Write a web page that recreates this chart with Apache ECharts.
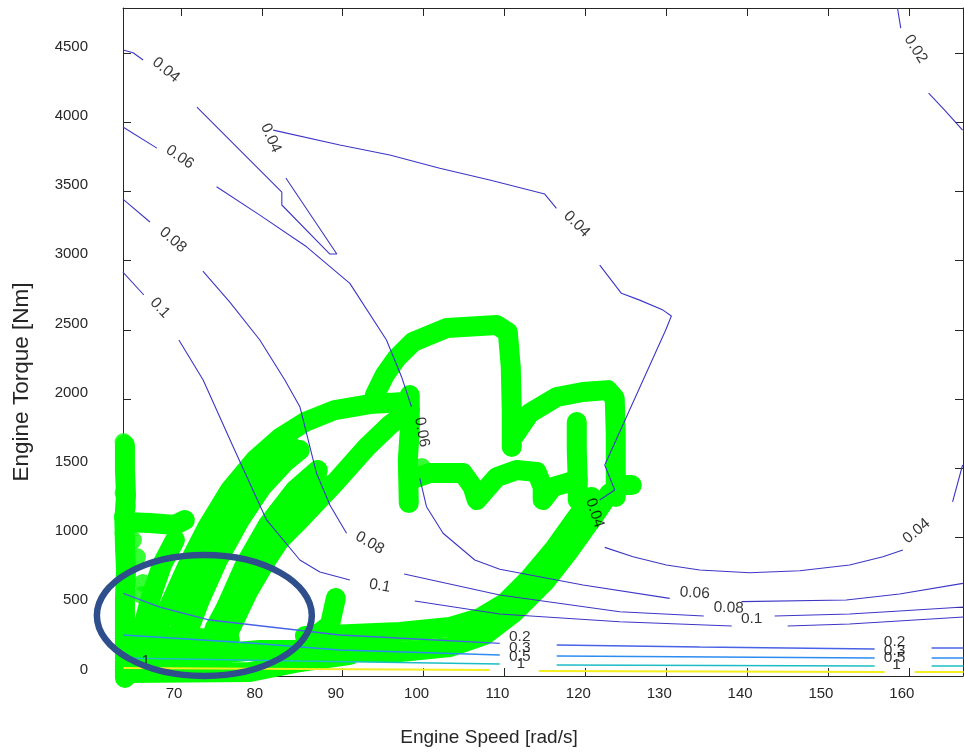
<!DOCTYPE html>
<html><head><meta charset="utf-8">
<script src="https://cdn.jsdelivr.net/npm/echarts@6/dist/echarts.min.js"></script>
<style>html,body{margin:0;padding:0;background:#fff}#c{width:964px;height:754px}</style>
</head><body><div id="c"></div>
<script>
// ---------- axis ticks ----------
var xTicks = [70, 80, 90, 100, 110, 120, 130, 140, 150, 160];
var yTicks = [0, 500, 1000, 1500, 2000, 2500, 3000, 3500, 4000, 4500];

// ---------- contour levels: segments of [speed rad/s, torque Nm] ----------
var c002 = [
  [[158.6,4825],[159.0,4680]],
  [[162.45,4210],[164.43,4088],[166.65,3943]]
];
var c004 = [
  [[62.85,4521],[64.08,4502],[65.32,4449]],
  [[71.97,4109],[77.28,3799],[82.47,3495],[82.47,3402],[88.41,3048],[89.27,3048],[82.97,3597]],
  [[81.40,3943],[89.64,3835],[95.82,3763],[102.00,3667],[108.18,3582],[114.98,3481],[116.43,3378]],
  [[121.78,2968],[124.46,2764],[126.72,2715],[129.60,2643],[130.64,2600],[129.94,2499],[122.40,1524],[123.63,1343],[121.78,1271]],
  [[122.40,929],[125.90,862],[130.02,802],[134.14,766],[140.32,746],[146.50,760],[152.68,802],[156.80,862],[159.27,910]],
  [[165.41,1257],[166.65,1524]]
];
var c006 = [
  [[62.82,3965],[67.02,3813]],
  [[74.40,3534],[79.75,3329],[85.53,3100],[90.88,2836],[95.41,2427],[97.27,2162],[98.50,1945]],
  [[99.53,1428],[100.36,1223],[102.41,1031],[106.33,838],[109.42,771],[119.72,657],[130.43,561]],
  [[139.30,537],[152.27,549],[158.86,592],[166.69,669]]
];
var c008 = [
  [[62.82,3445],[66.16,3279]],
  [[72.71,2925],[76.04,2701],[79.75,2427],[82.84,2138],[84.70,1945],[86.76,1464],[88.41,1235],[90.47,1031]],
  [[97.59,737],[109.42,585],[124.25,464],[134.64,433]],
  [[143.41,433],[152.68,448],[158.86,469],[166.77,498]]
];
var c010 = [
  [[62.82,2918],[65.41,2752]],
  [[69.74,2427],[72.74,2138],[76.45,1656],[80.58,1127],[84.70,838],[87.17,751],[90.88,693]],
  [[98.91,542],[109.42,448],[124.25,392],[138.10,361]],
  [[145.02,361],[152.68,376],[166.77,426]]
];
var c020 = [
  [[62.86,597],[67.39,498],[73.57,404],[89.64,296],[109.42,236]],
  [[116.46,224],[134.14,209],[155.77,195]],
  [[162.82,202],[166.77,202]]
];
var c030 = [
  [[62.86,296],[78.52,238],[89.64,188],[109.42,152]],
  [[116.46,144],[155.77,130]],
  [[162.82,130],[166.77,130]]
];
var c050 = [
  [[62.86,130],[84.70,108],[109.42,87]],
  [[116.46,79],[155.77,72]],
  [[162.82,72],[166.77,72]]
];
var c100 = [
  [[62.86,58],[108.18,43]],
  [[114.24,36],[157.01,29]],
  [[160.72,29],[166.77,29]]
];

// contour labels: [speed, torque, text]
var contourLabels = [
  [68.13,4377,'0.04'],[69.86,3748,'0.06'],[69.00,3149,'0.08'],[67.39,2658,'0.1'],
  [81.11,3885,'0.04'],[118.94,3264,'0.04'],[160.84,4528,'0.02'],[99.78,1762,'0.06'],
  [121.16,1177,'0.04'],[160.96,1047,'0.04'],[93.35,961,'0.08'],[94.59,650,'0.1'],
  [133.52,599,'0.06'],[137.73,491,'0.08'],[140.57,412,'0.1'],
  [111.89,282,'0.2'],[111.89,202,'0.3'],[111.89,137,'0.5'],[112.01,87,'1'],
  [158.24,246,'0.2'],[158.24,181,'0.3'],[158.24,130,'0.5'],[158.49,79,'1'],
  [65.66,108,'1']
];
var labelAngles = [-39,-35,-41,-47,-66,-45,-58,-80,-72,40,-30,-10,-3,-2,0,0,0,0,0,0,0,0,0,0];

// ---------- operating points trajectory (green) ----------
var gColumn = [[63.07,1668],[63.07,1488],[63.2,1307],[63.0,1127],[63.07,946],[63.2,766],[63.07,549],[63.07,260],[63.07,-14]];
var gDots = [[62.9,1690],[63.07,1509],[62.9,1322],[63.3,1220],[62.8,1148],[62.9,1033],[63.0,910],[63.07,787],[64.06,982],[64.55,859],[65.29,672],[65.17,585],[99.78,1509]];
var gShelf = [[63.07,1112],[66.16,1105],[69.25,1091],[70.48,1127]];
var gFill1 = [[63.07,22],[78.52,29],[84.70,101],[90.88,152]];
var gFill2 = [[63.07,152],[72.34,152],[79.75,188],[84.70,188]];
var gFill3 = [[63.07,282],[69.86,282],[76.04,260]];
var gFill4 = [[64.92,260],[66.16,549],[67.64,802],[69.25,982]];
var gLoop1 = [[66.16,152],[67.39,368],[68.88,549],[70.85,802],[73.20,1069],[76.04,1343],[79.13,1560],[82.22,1719],[85.32,1834],[89.02,1921],[93.35,1964],[97.68,1979]];
var gLoop2 = [[70.48,260],[72.34,549],[74.56,838],[77.28,1127],[80.00,1365],[82.84,1545],[84.70,1632]];
var gLoop3 = [[73.57,188],[75.43,477],[77.90,802],[80.74,1091],[84.08,1343],[86.92,1488]];
var gLoop4 = [[69.25,188],[70.48,477],[72.34,729],[75.06,997],[78.15,1271],[81.24,1488],[83.71,1654]];
var gLoop5 = [[74.81,58],[76.04,332],[78.27,607],[80.74,852],[83.46,1091],[85.93,1271],[87.79,1379]];
var gReturn = [[98.29,1921],[95.82,1813],[92.98,1654],[88.78,1379],[84.70,1127],[81.61,946],[78.76,766],[76.29,571],[74.19,347],[72.95,116]];
var gBandUpper = [[85.32,289],[97.06,318],[103.24,354],[106.95,419],[110.04,527],[113.13,708],[116.22,924],[118.69,1127],[120.79,1293]];
var gBandLower = [[84.70,173],[97.06,173],[103.24,209],[107.56,296],[111.27,462],[114.98,679],[118.07,910],[121.16,1163],[123.02,1322]];
var gSpike = [[85.93,260],[88.41,368],[89.15,563]];
var gHump1 = [[93.97,2029],[95.20,2174],[96.69,2297],[98.67,2412],[102.87,2513],[109.05,2535],[110.41,2484],[110.78,2232],[110.90,1921],[110.90,1654]];
var gHump2 = [[111.27,1741],[113.13,1899],[116.46,2015],[119.68,2051],[122.77,2065],[123.63,2008],[123.76,1755],[123.76,1394],[123.76,1293]];
var gStub = [[123.76,1379],[125.74,1379]];
var gPost = [[118.94,1834],[118.94,1632],[119.06,1416],[119.06,1271]];
var gPost2 = [[98.29,2029],[98.29,1777],[98.05,1560],[98.17,1249]];
var gWave = [[98.29,1416],[100.77,1466],[104.85,1466],[106.08,1365],[106.58,1271],[107.32,1322],[109.05,1437],[111.52,1488],[113.99,1473],[114.73,1365],[114.73,1271],[115.97,1365],[118.07,1401],[119.06,1416]];

// annotation ellipse: [centre speed, centre torque, half-width speed, half-height torque]
var noteEllipse = [72.89, 437, 13.29, 437];

// ---------- build ----------
var FONT = '"Liberation Sans", Arial, Helvetica, sans-serif';
var AX = '#262626';
var series = [];
var greenPaths = [gColumn, gShelf, gFill1, gFill2, gFill3, gFill4, gLoop1, gLoop2, gLoop3, gLoop4, gLoop5, gReturn,
  gBandUpper, gBandLower, gSpike, gHump1, gHump2, gStub, gPost, gPost2, gWave];
greenPaths.forEach(function (p) {
  series.push({type:'line', data:p, symbol:'none', showSymbol:false, clip:false, silent:true, animation:false, z:2,
    lineStyle:{color:'#00ff00', width:20, cap:'round', join:'round'}});
});
series.push({type:'scatter', data:gDots, symbol:'circle', symbolSize:18, clip:false, silent:true, animation:false, z:2,
  itemStyle:{color:'#00ff00'}});

var contourSets = [
  {segs:c002, color:'#3d36c6', width:1.1},
  {segs:c004, color:'#3d36c6', width:1.1},
  {segs:c006, color:'#3d36c6', width:1.1},
  {segs:c008, color:'#3d36c6', width:1.1},
  {segs:c010, color:'#3d36c6', width:1.1},
  {segs:c020, color:'#4862e6', width:1.4},
  {segs:c030, color:'#2c8cf0', width:1.4},
  {segs:c050, color:'#1cbcc6', width:1.4},
  {segs:c100, color:'#f4ee1e', width:2}
];
contourSets.forEach(function (cs) {
  cs.segs.forEach(function (seg) {
    series.push({type:'line', data:seg, symbol:'none', showSymbol:false, silent:true, animation:false, z:3,
      lineStyle:{color:cs.color, width:cs.width}});
  });
});

series.push({type:'scatter', symbol:'circle', symbolSize:1, silent:true, animation:false, z:4, clip:false,
  itemStyle:{color:'rgba(0,0,0,0)'},
  label:{show:true, position:'inside', color:'#000', fontSize:15.5, fontFamily:FONT,
    formatter:function (p) { return p.data.name; }},
  data: contourLabels.map(function (d, i) {
    return {value:[d[0], d[1]], name:d[2], label:{rotate:labelAngles[i]}};
  })
});

series.push({type:'custom', data:[noteEllipse], clip:false, silent:true, animation:false, z:10,
  renderItem:function (params, api) {
    var c = api.coord([api.value(0), api.value(1)]);
    var e = api.coord([api.value(0) + api.value(2), api.value(1) + api.value(3)]);
    return {type:'ellipse', shape:{cx:c[0], cy:c[1], rx:Math.abs(e[0]-c[0]), ry:Math.abs(e[1]-c[1])},
      style:{fill:null, stroke:'#2f4f8c', lineWidth:6.5}};
  }
});

function plain(v) { return String(v); }
var xMin = 62.83, xMax = 166.7, yMin = 0, yMax = 4825;
var chart = echarts.init(document.getElementById('c'));
chart.setOption({
  animation:false,
  backgroundColor:'#fff',
  grid:{left:123, right:1, top:8, bottom:78, containLabel:false},
  xAxis:[{
    type:'value', min:xMin, max:xMax, position:'bottom',
    axisLine:{show:true, onZero:false, lineStyle:{color:AX, width:1}},
    axisTick:{show:true, inside:true, length:8, lineStyle:{color:AX}, customValues:xTicks},
    axisLabel:{customValues:xTicks, formatter:plain, margin:10, color:AX, fontSize:15, fontFamily:FONT, padding:[0,14,0,0]},
    splitLine:{show:false},
    name:'Engine Speed [rad/s]', nameLocation:'middle', nameGap:52,
    nameTextStyle:{color:AX, fontSize:19, fontFamily:FONT, padding:[0,108,0,0]}
  },{
    type:'value', min:xMin, max:xMax, position:'top',
    axisLine:{show:true, onZero:false, lineStyle:{color:AX, width:1}},
    axisTick:{show:true, inside:true, length:8, lineStyle:{color:AX}, customValues:xTicks},
    axisLabel:{show:false}, splitLine:{show:false}
  }],
  yAxis:[{
    type:'value', min:yMin, max:yMax, position:'left',
    axisLine:{show:true, onZero:false, lineStyle:{color:AX, width:1}},
    axisTick:{show:true, inside:true, length:8, lineStyle:{color:AX}, customValues:yTicks},
    axisLabel:{customValues:yTicks, formatter:plain, margin:35, color:AX, fontSize:15, fontFamily:FONT,
      verticalAlign:'bottom', lineHeight:13},
    splitLine:{show:false},
    name:'Engine Torque [Nm]', nameLocation:'middle', nameGap:90,
    nameTextStyle:{color:AX, fontSize:22.5, fontFamily:FONT, padding:[0,80,0,0]}
  },{
    type:'value', min:yMin, max:yMax, position:'right',
    axisLine:{show:true, onZero:false, lineStyle:{color:AX, width:1}},
    axisTick:{show:true, inside:true, length:8, lineStyle:{color:AX}, customValues:yTicks},
    axisLabel:{show:false}, splitLine:{show:false}
  }],
  series:series
});
</script></body></html>
